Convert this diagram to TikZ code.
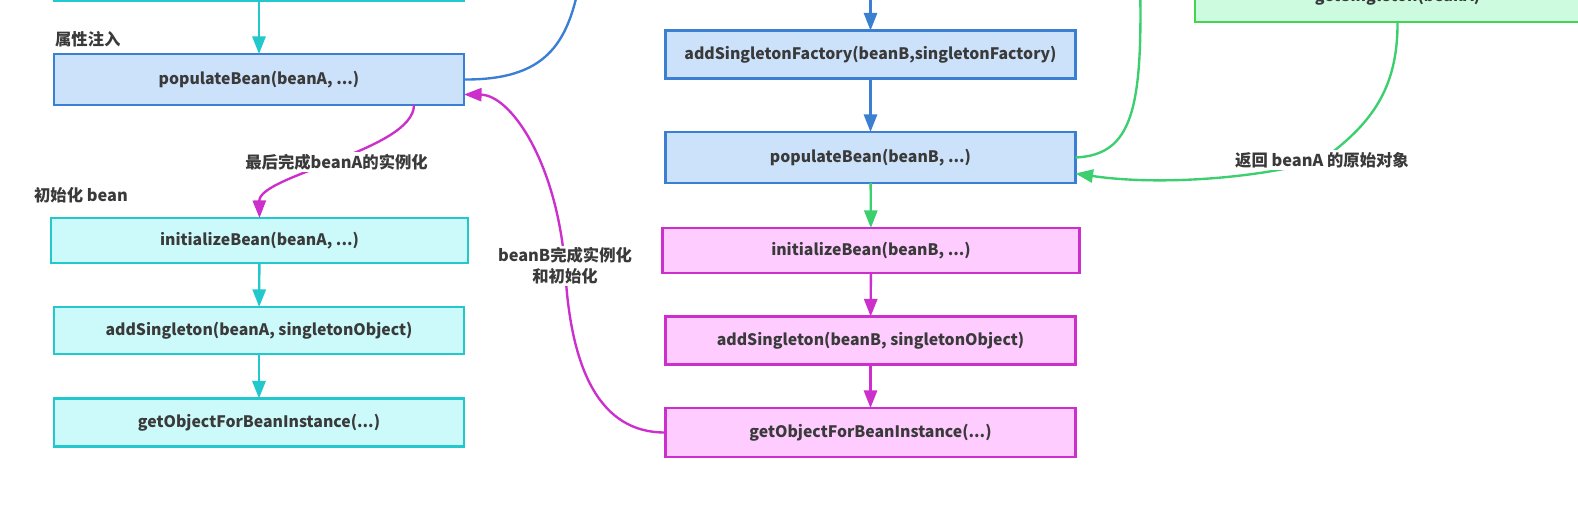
\documentclass[tikz,border=0pt]{standalone}
\usepackage{fontspec}
\setmainfont{Noto Sans CJK SC}
\usetikzlibrary{arrows.meta}

\definecolor{cyline}{HTML}{22C8CC}
\definecolor{cyfill}{HTML}{CCFAFA}
\definecolor{blline}{HTML}{3A7FD2}
\definecolor{blfill}{HTML}{CCE2FA}
\definecolor{mgline}{HTML}{CC2FCC}
\definecolor{mgfill}{HTML}{FFCCFF}
\definecolor{grline}{HTML}{3CCF70}
\definecolor{grbox}{HTML}{44D450}
\definecolor{grfill}{HTML}{CCFBE0}
\definecolor{txt}{HTML}{3A3A3A}

\tikzset{
	box/.style={draw,rectangle,line width=1.5pt,inner sep=0,outer sep=0,minimum width=8.2cm,
		font=\fontsize{9}{11}\selectfont\bfseries,text=txt},
	cybox/.style={box,draw=cyline,fill=cyfill},
	blbox/.style={box,draw=blline,fill=blfill},
	mgbox/.style={box,draw=mgline,fill=mgfill},
	grbox/.style={box,draw=grbox,fill=grfill},
	lbl/.style={font=\fontsize{9.3}{12}\selectfont\bfseries,text=txt,inner sep=1pt},
	conn/.style={line width=1.35pt,-{Triangle[length=10pt,width=7.5pt]}},
	cyarrow/.style={conn,draw=cyline},
	blarrow/.style={conn,draw=blline},
	mgarrow/.style={conn,draw=mgline},
	grarrow/.style={conn,draw=grline},
}

\begin{document}
\begin{tikzpicture}[x=0.02cm,y=-0.02cm]
	\path[use as bounding box,clip] (0,0) rectangle (1578,520);
	% left column: bean A
	\node[cybox,minimum height=1cm] (a0) at (259,-24) {};
	\node[blbox,minimum height=1.02cm] (a1) at (259,79.5) {populateBean(beanA, ...)};
	\node[cybox,minimum width=8.34cm,minimum height=0.9cm] (a2) at (259.5,240.5) {initializeBean(beanA, ...)};
	\node[cybox,minimum height=0.94cm] (a3) at (259,330.5) {addSingleton(beanA, singletonObject)};
	\node[cybox,minimum height=0.96cm] (a4) at (259,422.5) {getObjectForBeanInstance(...)};
	\node[lbl,anchor=west] (t1) at (53,39) {属性注入};
	\node[lbl,anchor=west] (t2) at (32,195) {初始化 bean};
	% middle column: bean B
	\node[blbox,minimum height=0.96cm] (b1) at (870.5,54.5) {addSingletonFactory(beanB,singletonFactory)};
	\node[blbox,minimum height=1.02cm] (b2) at (870.5,157.5) {populateBean(beanB, ...)};
	\node[mgbox,minimum width=8.34cm,minimum height=0.9cm] (b3) at (871,250.5) {initializeBean(beanB, ...)};
	\node[mgbox,minimum height=0.96cm] (b4) at (870.5,340.5) {addSingleton(beanB, singletonObject)};
	\node[mgbox,minimum height=0.98cm] (b5) at (870.5,432.5) {getObjectForBeanInstance(...)};
	% right: getSingleton
	\node[grbox,minimum width=8.1cm,minimum height=1cm] (g1) at (1397.5,-3) {getSingleton(beanA)};
	\coordinate (upA) at (580,-20);
	\coordinate (upB) at (870.5,-10);
	\coordinate (upG) at (1140,-20);

	\draw[cyarrow] (a0) -- (a1);
	\draw[cyarrow] (a2) -- (a3);
	\draw[cyarrow] (a3) -- (a4);
	\draw[blarrow] (upB) -- (b1);
	\draw[blarrow] (b1) -- (b2);
	\draw[grarrow] (b2) -- (b3);
	\draw[mgarrow] (b3) -- (b4);
	\draw[mgarrow] (b4) -- (b5);

	\draw[blline,line width=1.35pt] (a1.east) .. controls (545,80) and (568,45) .. (upA);
	\draw[mgarrow] ([xshift=-1cm]a1.south east) .. controls (414,150) and (259,175) .. (a2.north)
		node[lbl,fill=white,pos=0.5] (lA) {最后完成beanA的实例化};
	\draw[mgarrow] (b5.west) .. controls (600,433) and (570,370) .. (565,266)
		node[lbl,fill=white,align=center] (lB) {beanB完成实例化\\和初始化}
		.. controls (556,160) and (510,95) .. ([yshift=-0.3cm]a1.east);
	\draw[grline,line width=1.35pt] (b2.east) .. controls (1132,155) and (1143,110) .. (upG);
	\draw[grarrow] (g1.south) .. controls (1398,90) and (1370,125) .. (1322,160)
		node[lbl,fill=white] (lG) {返回 beanA 的原始对象}
		.. controls (1260,178) and (1160,186) .. ([yshift=-0.32cm]b2.east);
\end{tikzpicture}
\end{document}
